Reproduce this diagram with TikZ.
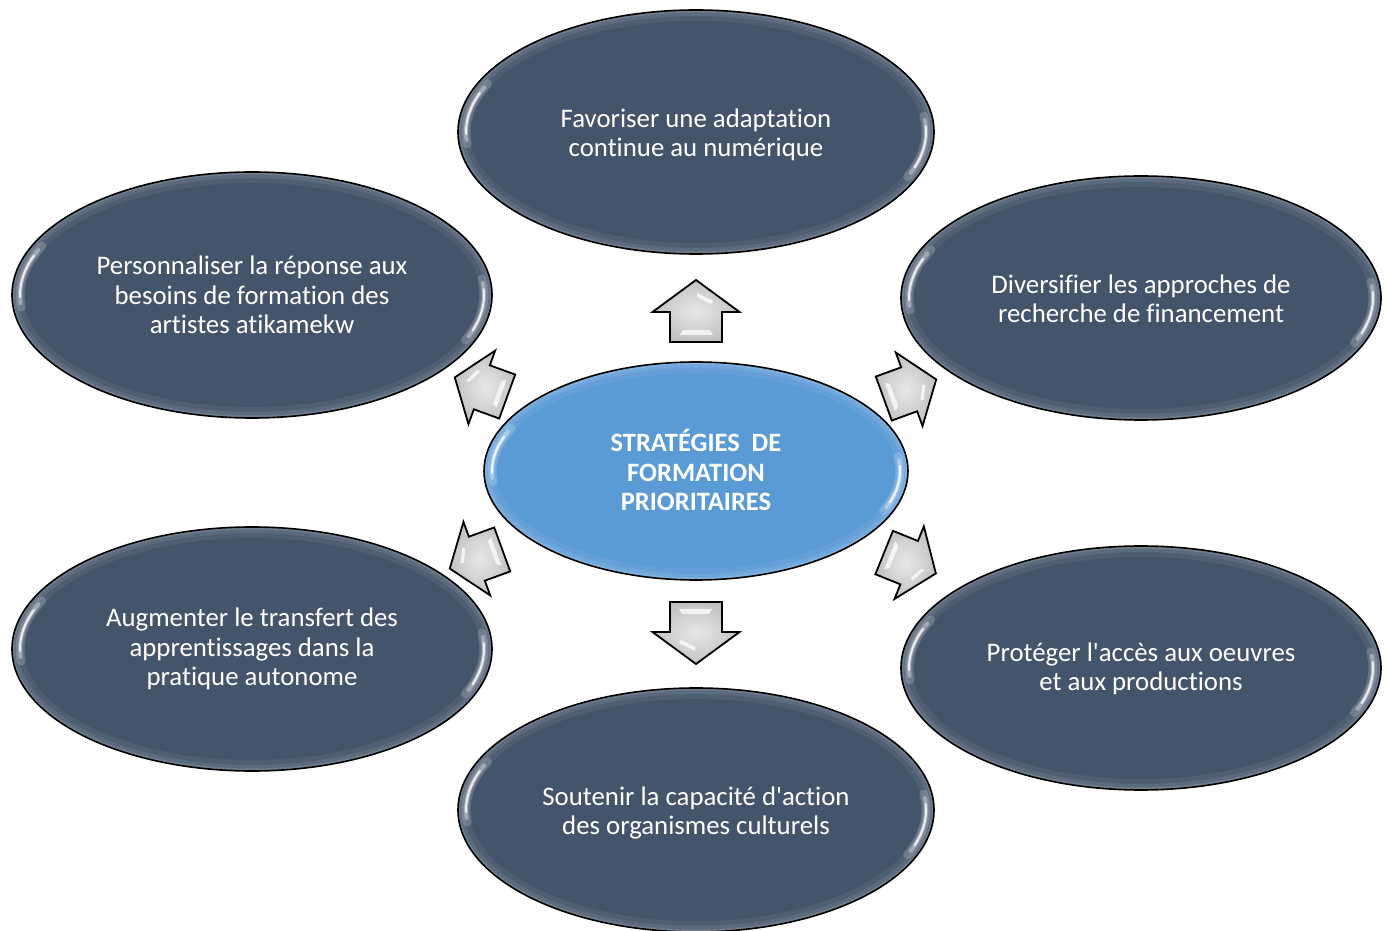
\documentclass[tikz,border=0pt]{standalone}
\usepackage{fontspec}
\setmainfont{Carlito}[Ligatures={NoCommon,TeXOff}]
\usetikzlibrary{shapes.geometric}

\definecolor{slate}{HTML}{44546A}
\definecolor{sky}{HTML}{5B9BD5}

\tikzset{
  bubblenode/.style={ellipse, inner sep=0pt, outer sep=0pt, text=white,
    align=center},
  rimglow/.style={white, line width=#1},
  gleam/.style={white, line cap=round},
  arrowbody/.style={draw=black, line width=1.8pt, line join=miter,
    inner color=gray!18, outer color=gray!48},
  arrowgleam/.style={fill=white, opacity=.75},
  labelfont/.style={font=\fontsize{26.8}{29.5}\selectfont},
  titlefont/.style={font=\fontsize{26.5}{29.5}\selectfont\bfseries},
}

% ellipse with soft inner rim, two white gleams and a black outline
% #1 name, #2 centre, #3 x radius, #4 y radius, #5 fill, #6 node style, #7 text
\newcommand\bubble[7]{%
  \fill[#5] (#2) ellipse [x radius=#3, y radius=#4];
  \node[bubblenode, minimum width=2*#3, minimum height=2*#4, #6]
    (#1) at (#2) {#7};
  \begin{scope}
    \clip (#2) ellipse [x radius=#3, y radius=#4];
    \draw[rimglow=22, opacity=.06] (#2) ellipse [x radius=#3, y radius=#4];
    \draw[rimglow=12, opacity=.08] (#2) ellipse [x radius=#3, y radius=#4];
    \draw[rimglow=5, opacity=.12] (#2) ellipse [x radius=#3, y radius=#4];
    % left gleam
    \draw[gleam, line width=9, opacity=.18]
      ([shift={(155:#3-8 and #4-8)}]#2)
      arc [start angle=155, end angle=186, x radius=#3-8, y radius=#4-8];
    \draw[gleam, line width=4, opacity=.35]
      ([shift={(157:#3-8 and #4-8)}]#2)
      arc [start angle=157, end angle=184, x radius=#3-8, y radius=#4-8];
    \draw[gleam, line width=2, opacity=.8]
      ([shift={(160:#3-8 and #4-8)}]#2)
      arc [start angle=160, end angle=181, x radius=#3-8, y radius=#4-8];
    % right gleam
    \draw[gleam, line width=9, opacity=.18]
      ([shift={(-23:#3-8 and #4-8)}]#2)
      arc [start angle=-23, end angle=8, x radius=#3-8, y radius=#4-8];
    \draw[gleam, line width=4, opacity=.35]
      ([shift={(-21:#3-8 and #4-8)}]#2)
      arc [start angle=-21, end angle=6, x radius=#3-8, y radius=#4-8];
    \draw[gleam, line width=2, opacity=.8]
      ([shift={(-18:#3-8 and #4-8)}]#2)
      arc [start angle=-18, end angle=3, x radius=#3-8, y radius=#4-8];
  \end{scope}
  \draw[line width=1.6] (#2) ellipse [x radius=#3, y radius=#4];
}

% bevelled block arrow pointing along local +x
% #1 centre, #2 direction angle, #3 scale
\newcommand\blockarrow[3]{%
  \begin{scope}[shift={(#1)}, rotate=#2, scale=#3]
    \path[arrowbody] (-31,-26) -- (-1,-26) -- (-1,-43.5) -- (31,0)
      -- (-1,43.5) -- (-1,26) -- (-31,26) -- cycle;
    \path[arrowgleam] (18,-1) -- (10,-17) -- (7,-15) -- (14,-1) -- cycle;
    \path[arrowgleam] (-24,-17) -- (-19,-14) -- (-19,13) -- (-24,16) -- cycle;
  \end{scope}
}

\begin{document}
\begin{tikzpicture}[x=1pt, y=1pt]
  \useasboundingbox (0,0) rectangle (1387,930);

  % outer goals
  \bubble{digital}{696,798}{238}{122}{slate}{labelfont, yshift=-3}
    {Favoriser une adaptation\\continue au numérique}
  \bubble{needs}{252,635}{240}{123}{slate}{labelfont}
    {Personnaliser la réponse aux\\besoins de formation des\\artistes atikamekw}
  \bubble{funding}{1141,632}{240}{122}{slate}{labelfont, yshift=-1}
    {Diversifier les approches de\\recherche de financement}
  \bubble{transfer}{252,281}{240}{122}{slate}{labelfont}
    {Augmenter le transfert des\\apprentissages dans la\\pratique autonome}
  \bubble{access}{1141,262}{240}{122}{slate}{labelfont, yshift=-1}
    {Protéger l'accès aux oeuvres\\et aux productions}
  \bubble{capacity}{696,120}{238}{122}{slate}{labelfont, yshift=-3}
    {Soutenir la capacité d'action\\des organismes culturels}

  % central theme
  \bubble{core}{696,459}{212}{109}{sky}{titlefont, yshift=1}
    {STRATÉGIES~~DE\\FORMATION\\PRIORITAIRES}

  % block arrows from the centre towards each goal
  \blockarrow{696,619}{90}{1}
  \blockarrow{696,297}{-90}{1}
  \blockarrow{481,543}{160}{0.9}
  \blockarrow{910,541}{20}{0.9}
  \blockarrow{476,371}{200}{0.9}
  \blockarrow{910,367}{-22}{0.9}
\end{tikzpicture}
\end{document}
